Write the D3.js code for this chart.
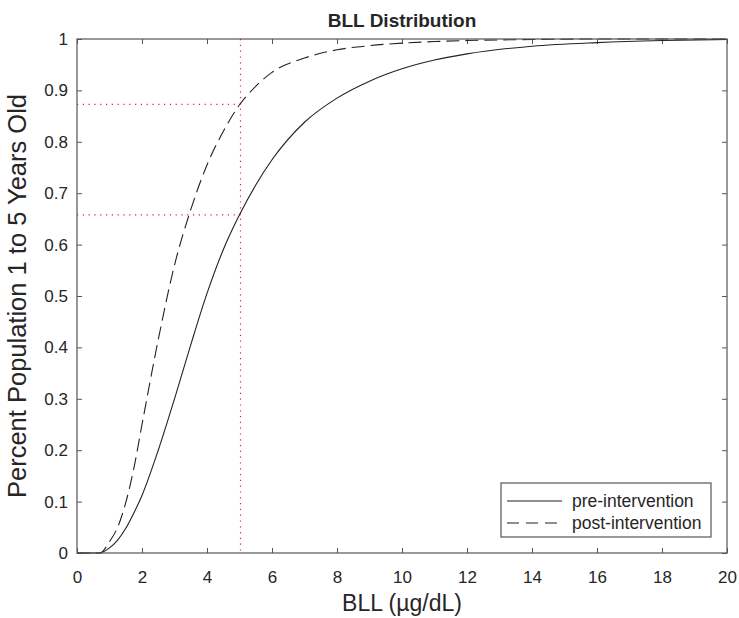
<!DOCTYPE html>
<html>
<head>
<meta charset="utf-8">
<script src="https://cdn.jsdelivr.net/npm/d3@7"></script>
<style>
  body { margin: 0; background: #fff; }
  svg text { font-family: "Liberation Sans", Arial, sans-serif; fill: #262626; }
</style>
</head>
<body>
<div id="chart"></div>
<script>
// BLL values (ug/dL) and cumulative share of children
var bll = [0, 0.7, 1, 1.25, 1.5, 1.75, 2, 2.5, 3, 3.5, 4, 4.5, 5, 5.5, 6, 7, 8, 9, 10, 11, 12, 14, 16, 18, 20];
var preIntervention = [0, 0, 0.01, 0.025, 0.048, 0.078, 0.112, 0.2, 0.3, 0.405, 0.505, 0.59, 0.658, 0.716, 0.765, 0.838, 0.885, 0.918, 0.942, 0.959, 0.971, 0.986, 0.993, 0.997, 0.999];
var postIntervention = [0, 0, 0.022, 0.05, 0.098, 0.165, 0.25, 0.415, 0.56, 0.668, 0.755, 0.82, 0.872, 0.908, 0.935, 0.963, 0.979, 0.987, 0.992, 0.995, 0.997, 0.999, 1, 1, 1];
var seriesNames = ["pre-intervention", "post-intervention"];
var xTicks = [0, 2, 4, 6, 8, 10, 12, 14, 16, 18, 20];
var yTicks = [0, 0.1, 0.2, 0.3, 0.4, 0.5, 0.6, 0.7, 0.8, 0.9, 1];
var threshold = 5;
var markPre = 0.658;
var markPost = 0.873;

(function(){
    var width = 739;
    var height = 618;
    var margin = {top: 39, right: 12, bottom: 65, left: 77};
    var w = width - margin.left - margin.right;
    var h = height - margin.top - margin.bottom;

    var svg = d3.select("#chart")
        .append("svg")
        .attr("width", width)
        .attr("height", height);

    var g = svg.append("g")
        .attr("transform", "translate(" + margin.left + "," + margin.top + ")");

    var x = d3.scaleLinear().domain([0, 20]).range([0, w]);
    var y = d3.scaleLinear().domain([0, 1]).range([h, 0]);

    var axisColor = "#555";

    // ticks pointing inward, box on all four sides
    function styleAxis(sel){
        sel.select(".domain").remove();
        sel.selectAll(".tick line").attr("stroke", axisColor);
        sel.selectAll(".tick text").style("font-size", "17px").attr("fill", "#333");
    }
    g.append("g")
        .attr("transform", "translate(0," + h + ")")
        .call(d3.axisBottom(x).tickValues(xTicks).tickSizeInner(-5).tickSizeOuter(0).tickPadding(18).tickFormat(d3.format("d")))
        .call(styleAxis);
    g.append("g")
        .call(d3.axisTop(x).tickValues(xTicks).tickSizeInner(-5).tickSizeOuter(0).tickFormat(""))
        .call(styleAxis);
    g.append("g")
        .call(d3.axisLeft(y).tickValues(yTicks).tickSizeInner(-5).tickSizeOuter(0).tickPadding(9).tickFormat(function(d){ return d3.format("")(+d.toFixed(1)); }))
        .call(styleAxis);
    g.append("g")
        .attr("transform", "translate(" + w + ",0)")
        .call(d3.axisRight(y).tickValues(yTicks).tickSizeInner(-5).tickSizeOuter(0).tickFormat(""))
        .call(styleAxis);

    // red dotted guide lines at BLL = 5
    var red = "#e8202a";
    var xv = Math.round(x(threshold)) + 0.5;
    g.append("line")
        .attr("x1", xv).attr("x2", xv)
        .attr("y1", 0).attr("y2", h)
        .attr("stroke", red).attr("stroke-width", 1.2).attr("stroke-dasharray", "1.2,4.6");
    [markPre, markPost].forEach(function(v){
        g.append("line")
            .attr("x1", 0).attr("x2", xv)
            .attr("y1", y(v)).attr("y2", y(v))
            .attr("stroke", red).attr("stroke-width", 1.2).attr("stroke-dasharray", "1.2,4.6");
    });

    var line = d3.line()
        .x(function(d){ return x(d[0]); })
        .y(function(d){ return y(d[1]); })
        .curve(d3.curveMonotoneX);

    var preData = bll.map(function(b, i){ return [b, preIntervention[i]]; });
    var postData = bll.map(function(b, i){ return [b, postIntervention[i]]; });

    g.append("path")
        .datum(preData)
        .attr("d", line)
        .attr("fill", "none")
        .attr("stroke", "#222")
        .attr("stroke-width", 1.1);
    g.append("path")
        .datum(postData)
        .attr("d", line)
        .attr("fill", "none")
        .attr("stroke", "#222")
        .attr("stroke-width", 1.1)
        .attr("stroke-dasharray", "13,6");

    // axes box
    g.append("rect")
        .attr("width", w).attr("height", h)
        .attr("fill", "none")
        .attr("stroke", axisColor)
        .attr("stroke-width", 1.2);

    // legend
    var leg = g.append("g").attr("transform", "translate(" + (501 - margin.left) + "," + (483 - margin.top) + ")");
    leg.append("rect")
        .attr("width", 210).attr("height", 54)
        .attr("fill", "#fff")
        .attr("stroke", axisColor)
        .attr("stroke-width", 1.2);
    seriesNames.forEach(function(name, i){
        var yy = 18 + i * 22;
        leg.append("line")
            .attr("x1", 6).attr("x2", 61)
            .attr("y1", yy).attr("y2", yy)
            .attr("stroke", "#222")
            .attr("stroke-width", 1.1)
            .attr("stroke-dasharray", i === 1 ? "12,7" : null);
        leg.append("text")
            .attr("x", 71).attr("y", yy)
            .attr("dy", "0.35em")
            .style("font-size", "17.5px")
            .text(name);
    });

    // title and axis labels
    svg.append("text")
        .attr("x", margin.left + w / 2).attr("y", 27)
        .attr("text-anchor", "middle")
        .style("font-size", "19px")
        .style("font-weight", "bold")
        .attr("fill", "#000")
        .text("BLL Distribution");
    svg.append("text")
        .attr("x", margin.left + w / 2).attr("y", 611)
        .attr("text-anchor", "middle")
        .style("font-size", "23px")
        .text("BLL (\u00b5g/dL)");
    svg.append("text")
        .attr("transform", "translate(26," + (margin.top + h / 2) + ") rotate(-90)")
        .attr("text-anchor", "middle")
        .style("font-size", "25.5px")
        .text("Percent Population 1 to 5 Years Old");
})();
</script>
</body>
</html>
